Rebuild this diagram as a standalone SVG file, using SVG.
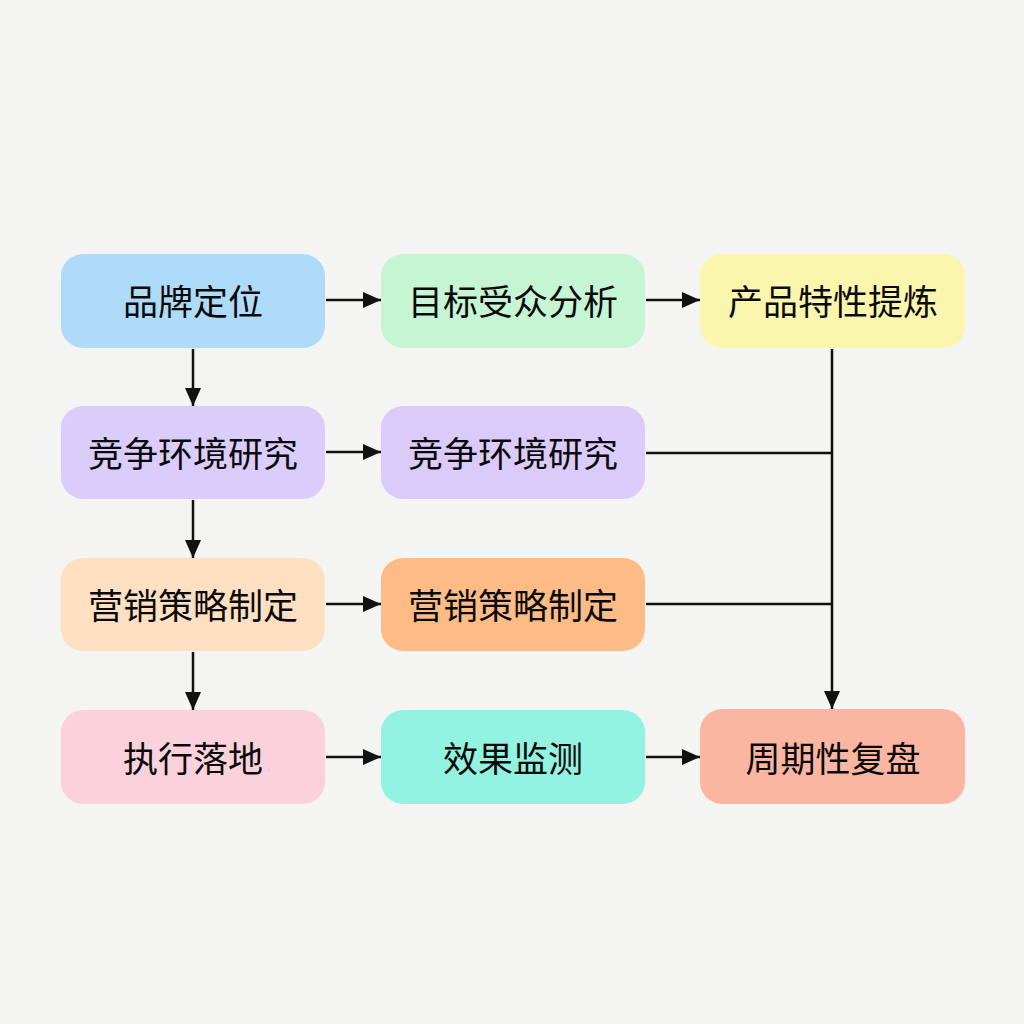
<svg xmlns="http://www.w3.org/2000/svg" width="1024" height="1024" viewBox="0 0 1024 1024">
<defs>
<marker id="ahb" viewBox="0 0 18 16" refX="18" refY="8" markerWidth="18" markerHeight="16" markerUnits="userSpaceOnUse" orient="auto"><path d="M0,0 L18,8 L0,16 z" fill="#111"/></marker>
</defs>
<style>
.n rect{stroke:none}
.n text{font-family:"Noto Sans CJK SC","Noto Sans",sans-serif;font-size:35px;font-weight:400;fill:#0a0a0a;text-anchor:middle;dominant-baseline:central}
.c line{stroke:#111;stroke-width:2.5;fill:none}
</style>
<rect width="1024" height="1024" fill="#f4f4f3"/>
<g class="c">
<line x1="326" y1="300" x2="381" y2="300" marker-end="url(#ahb)"/>
<line x1="646" y1="300" x2="700" y2="300" marker-end="url(#ahb)"/>
<line x1="326" y1="452" x2="381" y2="452" marker-end="url(#ahb)"/>
<line x1="326" y1="604" x2="381" y2="604" marker-end="url(#ahb)"/>
<line x1="326" y1="757" x2="381" y2="757" marker-end="url(#ahb)"/>
<line x1="646" y1="757" x2="700" y2="757" marker-end="url(#ahb)"/>
<line x1="193" y1="349" x2="193" y2="406" marker-end="url(#ahb)"/>
<line x1="193" y1="500" x2="193" y2="558" marker-end="url(#ahb)"/>
<line x1="193" y1="652" x2="193" y2="710" marker-end="url(#ahb)"/>
<line x1="832" y1="349" x2="832" y2="709" marker-end="url(#ahb)"/>
<line x1="646" y1="453" x2="832" y2="453"/>
<line x1="646" y1="604" x2="832" y2="604"/>
</g>
<g id="n1" class="n"><rect x="61" y="254" width="264" height="94" rx="22" fill="#aedcf8"/><text x="193" y="299">品牌定位</text></g>
<g id="n2" class="n"><rect x="381" y="254" width="264" height="94" rx="22" fill="#c6f5d3"/><text x="513" y="299">目标受众分析</text></g>
<g id="n3" class="n"><rect x="700" y="254" width="265" height="94" rx="22" fill="#fbf6ae"/><text x="833" y="299">产品特性提炼</text></g>
<g id="n4" class="n"><rect x="61" y="406" width="264" height="93" rx="22" fill="#dbcdfb"/><text x="193" y="451">竞争环境研究</text></g>
<g id="n5" class="n"><rect x="381" y="406" width="264" height="93" rx="22" fill="#dbcbfb"/><text x="513" y="451">竞争环境研究</text></g>
<g id="n6" class="n"><rect x="61" y="558" width="264" height="93" rx="22" fill="#fde0c2"/><text x="193" y="603">营销策略制定</text></g>
<g id="n7" class="n"><rect x="381" y="558" width="264" height="93" rx="22" fill="#fdbc86"/><text x="513" y="603">营销策略制定</text></g>
<g id="n8" class="n"><rect x="61" y="710" width="264" height="94" rx="22" fill="#fbd1dc"/><text x="193" y="756">执行落地</text></g>
<g id="n9" class="n"><rect x="381" y="710" width="264" height="94" rx="22" fill="#92f3e1"/><text x="513" y="756">效果监测</text></g>
<g id="n10" class="n"><rect x="700" y="709" width="265" height="95" rx="22" fill="#fbb6a2"/><text x="833" y="756">周期性复盘</text></g>
</svg>
